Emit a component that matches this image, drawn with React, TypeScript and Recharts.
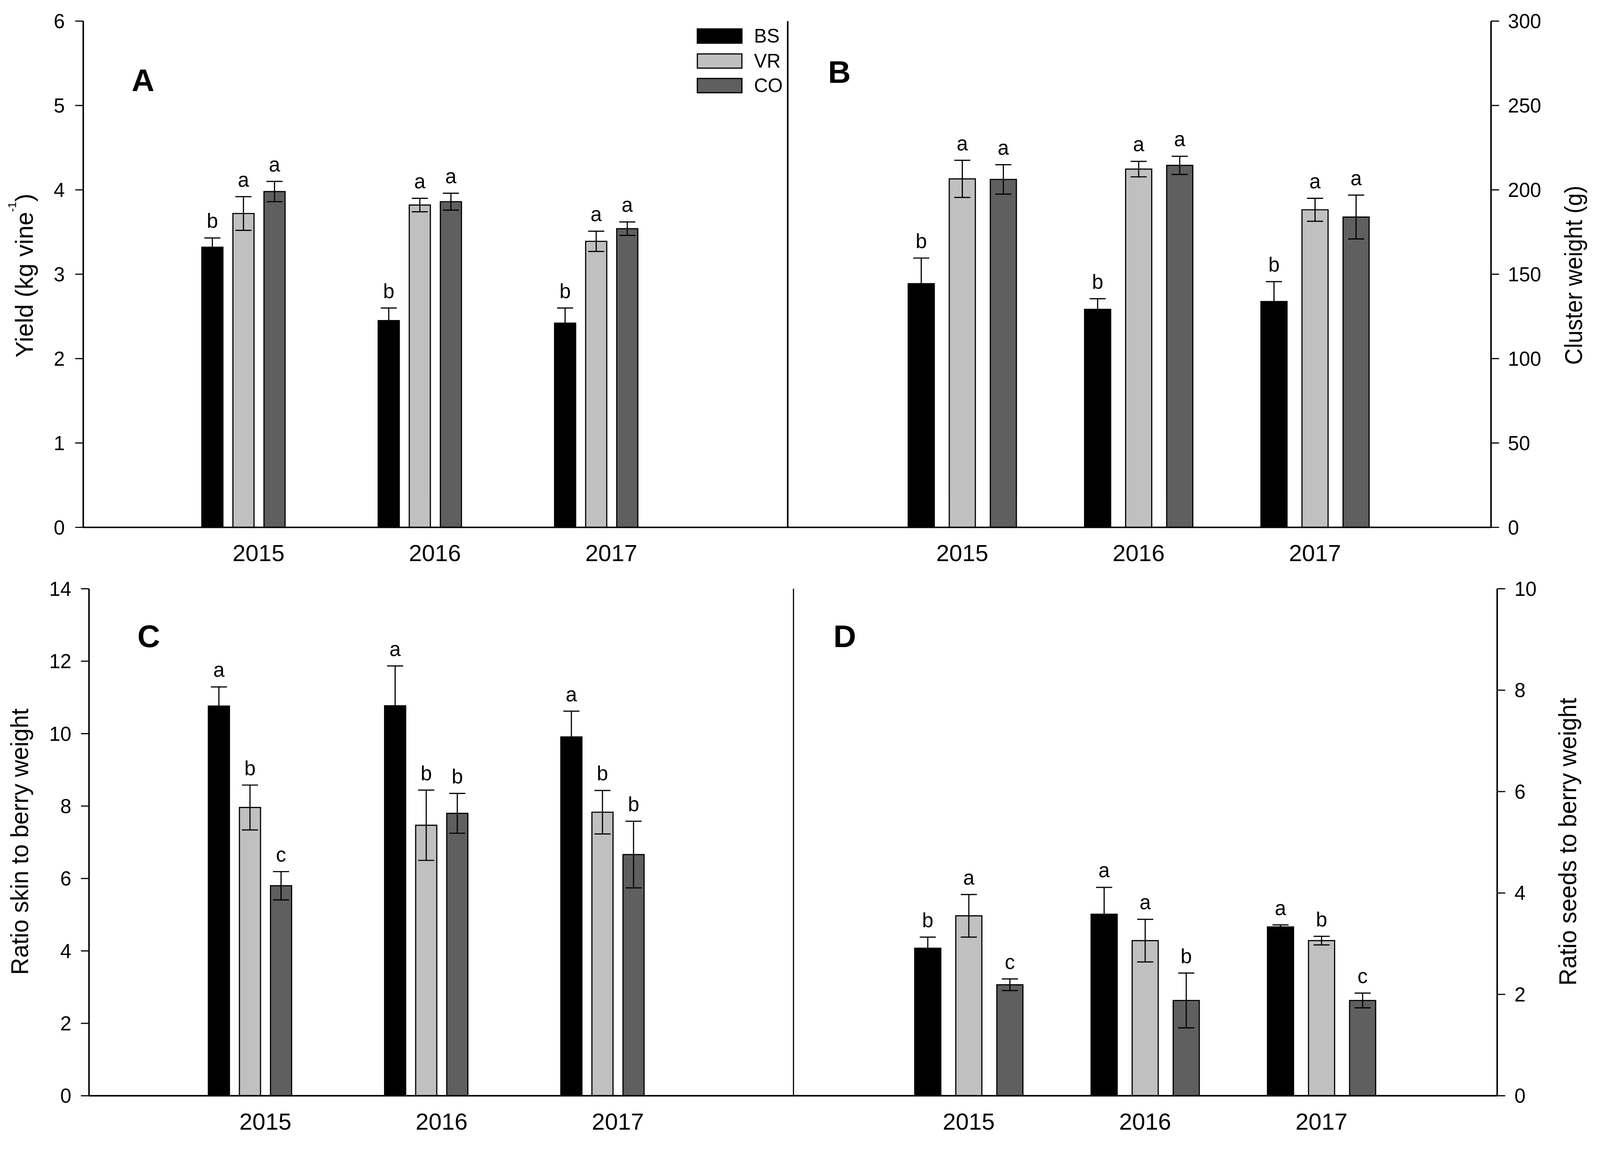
import React from 'react';
import { BarChart, Bar, XAxis, YAxis, ErrorBar, LabelList, Legend } from 'recharts';

const FONT = '"Liberation Sans", Arial, Helvetica, sans-serif';
const PAGE_W = 4170;
const PAGE_H = 2961;

// ---------- shared categories / series ----------
const years = ['2015', '2016', '2017'];
const seriesNames = ['BS', 'VR', 'CO'];
const seriesFill = ['#000000', '#c0c0c0', '#5f5f5f'];

// ---------- Panel A: Yield (kg vine-1) ----------
const yieldBS = [3.32, 2.45, 2.42];
const yieldBSErr = [0.11, 0.15, 0.18];
const yieldBSLet = ['b', 'b', 'b'];
const yieldVR = [3.72, 3.82, 3.39];
const yieldVRErr = [0.2, 0.08, 0.12];
const yieldVRLet = ['a', 'a', 'a'];
const yieldCO = [3.98, 3.86, 3.54];
const yieldCOErr = [0.12, 0.1, 0.08];
const yieldCOLet = ['a', 'a', 'a'];
const yieldTicks = [0, 1, 2, 3, 4, 5, 6];

// ---------- Panel B: Cluster weight (g) ----------
const clusterBS = [144.4, 129.2, 133.8];
const clusterBSErr = [15.2, 6.3, 11.8];
const clusterBSLet = ['b', 'b', 'b'];
const clusterVR = [206.5, 212.3, 188.2];
const clusterVRErr = [11.0, 4.6, 6.8];
const clusterVRLet = ['a', 'a', 'a'];
const clusterCO = [206.2, 214.5, 183.9];
const clusterCOErr = [8.7, 5.4, 13.0];
const clusterCOLet = ['a', 'a', 'a'];
const clusterTicks = [0, 50, 100, 150, 200, 250, 300];

// ---------- Panel C: Ratio skin to berry weight ----------
const skinBS = [10.76, 10.77, 9.91];
const skinBSErr = [0.53, 1.1, 0.71];
const skinBSLet = ['a', 'a', 'a'];
const skinVR = [7.96, 7.47, 7.83];
const skinVRErr = [0.62, 0.97, 0.6];
const skinVRLet = ['b', 'b', 'b'];
const skinCO = [5.8, 7.8, 6.66];
const skinCOErr = [0.39, 0.55, 0.92];
const skinCOLet = ['c', 'b', 'b'];
const skinTicks = [0, 2, 4, 6, 8, 10, 12, 14];

// ---------- Panel D: Ratio seeds to berry weight ----------
const seedBS = [2.91, 3.58, 3.33];
const seedBSErr = [0.22, 0.53, 0.04];
const seedBSLet = ['b', 'a', 'a'];
const seedVR = [3.55, 3.06, 3.06];
const seedVRErr = [0.42, 0.42, 0.085];
const seedVRLet = ['a', 'a', 'b'];
const seedCO = [2.19, 1.88, 1.88];
const seedCOErr = [0.115, 0.54, 0.145];
const seedCOLet = ['c', 'b', 'c'];
const seedTicks = [0, 2, 4, 6, 8, 10];

function buildRows(
  bs: number[], bsE: number[], bsL: string[],
  vr: number[], vrE: number[], vrL: string[],
  co: number[], coE: number[], coL: string[]
) {
  return years.map((year, i) => ({
    year,
    BS: bs[i], BSErr: bsE[i], BSLet: bsL[i],
    VR: vr[i], VRErr: vrE[i], VRLet: vrL[i],
    CO: co[i], COErr: coE[i], COLet: coL[i],
  }));
}

const rowsA = buildRows(yieldBS, yieldBSErr, yieldBSLet, yieldVR, yieldVRErr, yieldVRLet, yieldCO, yieldCOErr, yieldCOLet);
const rowsB = buildRows(clusterBS, clusterBSErr, clusterBSLet, clusterVR, clusterVRErr, clusterVRLet, clusterCO, clusterCOErr, clusterCOLet);
const rowsC = buildRows(skinBS, skinBSErr, skinBSLet, skinVR, skinVRErr, skinVRLet, skinCO, skinCOErr, skinCOLet);
const rowsD = buildRows(seedBS, seedBSErr, seedBSLet, seedVR, seedVRErr, seedVRLet, seedCO, seedCOErr, seedCOLet);

function makeLetter(rows: any[], key: string) {
  return (props: any) => {
    const idx = props.index;
    const vb = props.viewBox || props;
    const row = rows[idx];
    if (!row || !vb) return null;
    const v = row[key];
    const e = row[key + 'Err'];
    const ppu = v ? vb.height / v : 0;
    const top = vb.y - e * ppu;
    return (
      <text x={vb.x + vb.width / 2} y={top - 26} textAnchor="middle" fontSize={53} fontFamily={FONT} fill="#000">
        {row[key + 'Let']}
      </text>
    );
  };
}

function makeYearTick(dx: number) {
  return (props: any) => {
    const { x, y, payload } = props;
    return (
      <text x={x + dx} y={y + 88} textAnchor="middle" fontSize={61} fontFamily={FONT} fill="#000">
        {payload.value}
      </text>
    );
  };
}

const legendContent = () => (
  <div style={{ fontFamily: FONT }}>
    {seriesNames.map((s, k) => (
      <div key={s} style={{ display: 'flex', alignItems: 'center', height: 64.5 }}>
        <div style={{ width: 119, height: 40, boxSizing: 'border-box', background: seriesFill[k], border: '3px solid #000' }} />
        <span style={{ marginLeft: 30, fontSize: 50, lineHeight: 1, color: '#000' }}>{s}</span>
      </div>
    ))}
  </div>
);

type PanelProps = {
  rows: any[];
  box: { left: number; top: number; width: number; height: number };
  margin: { top: number; right: number; bottom: number; left: number };
  side: 'left' | 'right';
  domain: [number, number];
  ticks: number[];
  title: React.ReactNode;
  titleX: number;
  titleY: number;
  titleLen: number;
  letter: string;
  letterX: number;
  letterY: number;
  padL: number;
  padR: number;
  barSize: number;
  barGap: number;
  tickDx: number;
  tickMargin: number;
  lineWidth: number;
  legend?: boolean;
};

function Panel(p: PanelProps) {
  const labelContent = () => (
    <g>
      <text
        x={p.titleX - p.box.left}
        y={p.titleY - p.box.top}
        transform={`rotate(-90 ${p.titleX - p.box.left} ${p.titleY - p.box.top})`}
        textAnchor="middle"
        fontSize={64}
        fontFamily={FONT}
        fill="#000"
        textLength={p.titleLen}
        lengthAdjust="spacingAndGlyphs"
      >
        {p.title}
      </text>
      <text x={p.letterX - p.box.left} y={p.letterY - p.box.top} fontSize={82} fontWeight="bold" fontFamily={FONT} fill="#000">
        {p.letter}
      </text>
    </g>
  );
  const tickStyle = { fill: '#000', fontSize: 52, fontFamily: FONT };
  return (
    <div style={{ position: 'absolute', left: p.box.left, top: p.box.top }}>
      <BarChart
        width={p.box.width}
        height={p.box.height}
        data={p.rows}
        margin={p.margin}
        barSize={p.barSize}
        barGap={p.barGap}
      >
        <XAxis
          dataKey="year"
          padding={{ left: p.padL, right: p.padR }}
          axisLine={{ stroke: '#000', strokeWidth: 4 }}
          tickLine={false}
          tickSize={0}
          tickMargin={0}
          height={100}
          interval={0}
          tick={makeYearTick(p.tickDx)}
        />
        {p.side === 'right' && (
          <YAxis
            yAxisId="line"
            orientation="left"
            width={1}
            domain={p.domain}
            ticks={p.ticks}
            tick={false}
            tickLine={false}
            axisLine={{ stroke: '#000', strokeWidth: p.lineWidth }}
          />
        )}
        <YAxis
          yAxisId="v"
          orientation={p.side}
          width={200}
          domain={p.domain}
          ticks={p.ticks}
          interval={0}
          tickSize={21}
          tickMargin={p.tickMargin}
          tick={tickStyle}
          tickLine={{ stroke: '#000', strokeWidth: 3 }}
          axisLine={{ stroke: '#000', strokeWidth: 4 }}
          label={{ content: labelContent }}
        />
        {p.legend && (
          <Legend
            layout="vertical"
            align="center"
            verticalAlign="middle"
            wrapperStyle={{ left: 1816, top: 62, width: 260, height: 200 }}
            content={legendContent}
          />
        )}
        {seriesNames.map((s, k) => (
          <Bar
            key={s}
            dataKey={s}
            name={s}
            yAxisId="v"
            fill={seriesFill[k]}
            stroke="#000"
            strokeWidth={3}
            isAnimationActive={false}
          >
            <ErrorBar dataKey={s + 'Err'} width={21} strokeWidth={3} stroke="#000" direction="y" isAnimationActive={false} />
            <LabelList dataKey={s} content={makeLetter(p.rows, s)} />
          </Bar>
        ))}
      </BarChart>
    </div>
  );
}

export default function App() {
  // Fit the fixed 4170x2961 drawing into whatever CSS viewport the page really has.
  const vw = typeof window !== 'undefined' ? window.innerWidth : PAGE_W;
  const vh = typeof window !== 'undefined' ? window.innerHeight : PAGE_H;
  const s = Math.min(1, vw / PAGE_W, vh / PAGE_H);
  return (
    <div
      style={{
        position: 'absolute',
        left: 0,
        top: 0,
        width: PAGE_W,
        height: PAGE_H,
        background: '#fff',
        overflow: 'hidden',
        transform: `scale(${s})`,
        transformOrigin: '0 0',
      }}
    >
      <Panel
        rows={rowsA}
        box={{ left: 0, top: 0, width: 2100, height: 1500 }}
        margin={{ top: 55, right: 47, bottom: 26, left: 17 }}
        side="left"
        domain={[0, 6]}
        ticks={yieldTicks}
        title={
          <>
            {'Yield (kg vine'}
            <tspan dy={-44} fontSize={30}>-1</tspan>
            <tspan dy={44}>)</tspan>
          </>
        }
        titleX={86}
        titleY={718}
        titleLen={427}
        letter="A"
        letterX={343}
        letterY={237}
        padL={188}
        padR={269}
        barSize={55}
        barGap={26}
        tickDx={39}
        tickMargin={27}
        lineWidth={4}
        legend
      />
      <Panel
        rows={rowsB}
        box={{ left: 2000, top: 0, width: 2160, height: 1500 }}
        margin={{ top: 55, right: 74, bottom: 26, left: 52 }}
        side="right"
        domain={[0, 300]}
        ticks={clusterTicks}
        title="Cluster weight (g)"
        titleX={4123}
        titleY={717}
        titleLen={467}
        letter="B"
        letterX={2158}
        letterY={216}
        padL={225}
        padR={229}
        barSize={68}
        barGap={39}
        tickDx={0}
        tickMargin={23}
        lineWidth={4}
      />
      <Panel
        rows={rowsC}
        box={{ left: 0, top: 1480, width: 2120, height: 1481 }}
        margin={{ top: 54, right: 52, bottom: 6, left: 32 }}
        side="left"
        domain={[0, 14]}
        ticks={skinTicks}
        title="Ratio skin to berry weight"
        titleX={73}
        titleY={2193}
        titleLen={694}
        letter="C"
        letterX={358}
        letterY={1686}
        padL={190}
        padR={268}
        barSize={55}
        barGap={26}
        tickDx={40}
        tickMargin={25}
        lineWidth={4}
      />
      <Panel
        rows={rowsD}
        box={{ left: 2000, top: 1480, width: 2160, height: 1481 }}
        margin={{ top: 54, right: 58, bottom: 6, left: 67 }}
        side="right"
        domain={[0, 10]}
        ticks={seedTicks}
        title="Ratio seeds to berry weight"
        titleX={4108}
        titleY={2193}
        titleLen={750}
        letter="D"
        letterX={2172}
        letterY={1686}
        padL={227}
        padR={228}
        barSize={68}
        barGap={39}
        tickDx={0}
        tickMargin={24}
        lineWidth={3}
      />
    </div>
  );
}
